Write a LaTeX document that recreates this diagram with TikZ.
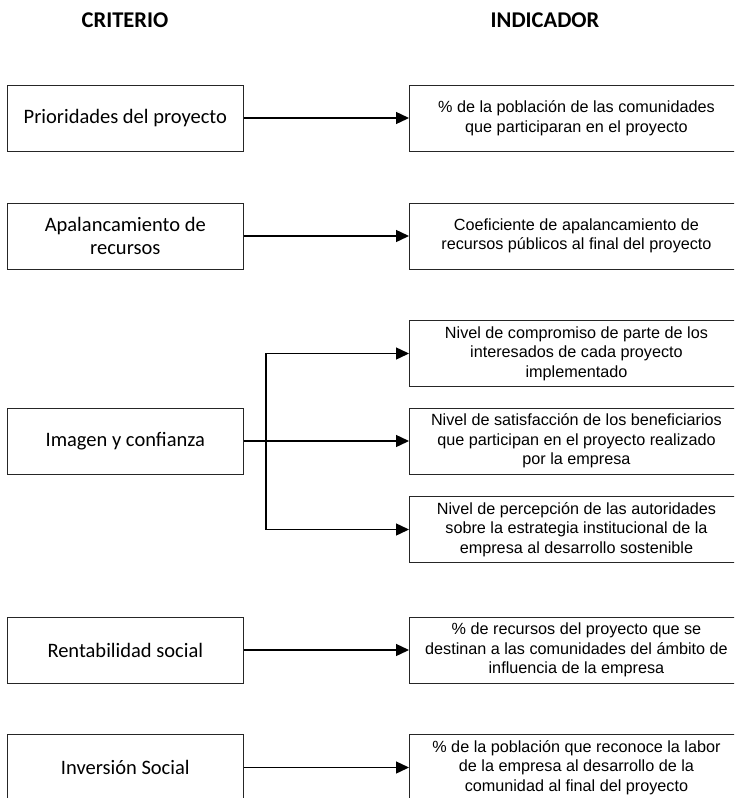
\documentclass[tikz,border=0pt]{standalone}
\usepackage{fontspec}
\usetikzlibrary{arrows.meta}
\newfontfamily\carlfont{Carlito}
\newfontfamily\libsfont{Liberation Sans}
\newcommand\critfont{\carlfont\fontsize{20.5}{23.5}\selectfont}
\newcommand\indfont{\libsfont\fontsize{16.2}{19.5}\selectfont}
\newcommand\headfont{\carlfont\bfseries\fontsize{22.5}{26}\selectfont}
\tikzset{
  critbox/.style={draw=black!85, line width=0.9pt, minimum width=236pt, minimum height=66pt, align=center, font=\critfont, inner sep=0pt},
  indbox/.style={draw=black!85, line width=0.9pt, minimum width=334pt, minimum height=66pt, align=center, font=\indfont, anchor=west, inner sep=0pt},
  conn/.style={line width=1.4pt, -{Triangle[length=13pt,width=12pt]}},
  headtext/.style={font=\headfont, inner sep=0pt}
}
\begin{document}
\begin{tikzpicture}[x=1pt,y=-1pt]
\useasboundingbox (0,0) rectangle (734,798);
\clip (0,0) rectangle (734,798);
\fill[white] (0,0) rectangle (734,798);

\node[headtext] (hc) at (125,20) {CRITERIO};
\node[headtext] (hi) at (545,20) {INDICADOR};

% row 1
\node[critbox] (c1) at (125.3,118) {Prioridades del proyecto};
\node[indbox] (i1) at (409,118) {\% de la población de las comunidades\\que participaran en el proyecto};
\draw[conn] (c1) -- (i1);

% row 2
\node[critbox] (c2) at (125.3,236) {Apalancamiento de\\recursos};
\node[indbox] (i2) at (409,236) {Coeficiente de apalancamiento de\\recursos públicos al final del proyecto};
\draw[conn] (c2) -- (i2);

% row 3
\node[critbox] (c3) at (125.3,441) {Imagen y confianza};
\node[indbox] (i3a) at (409,353.5) {Nivel de compromiso de parte de los\\interesados de cada proyecto\\implementado};
\node[indbox] (i3b) at (409,441) {Nivel de satisfacción de los beneficiarios\\que participan en el proyecto realizado\\por la empresa};
\node[indbox] (i3c) at (409,529.5) {Nivel de percepción de las autoridades\\sobre la estrategia institucional de la\\empresa al desarrollo sostenible};
\coordinate (j3) at (266,441);
\draw[conn] (c3) -- (i3b);
\draw[conn] (j3) |- (i3a.west);
\draw[conn] (j3) |- (i3c.west);

% row 4
\node[critbox] (c4) at (125.3,650) {Rentabilidad social};
\node[indbox] (i4) at (409,650) {\% de recursos del proyecto que se\\destinan a las comunidades del ámbito de\\influencia de la empresa};
\draw[conn] (c4) -- (i4);

% row 5
\node[critbox] (c5) at (125.3,767.5) {Inversión Social};
\node[indbox] (i5) at (409,767.5) {\% de la población que reconoce la labor\\de la empresa al desarrollo de la\\comunidad al final del proyecto};
\draw[conn] (c5) -- (i5);
\end{tikzpicture}
\end{document}
